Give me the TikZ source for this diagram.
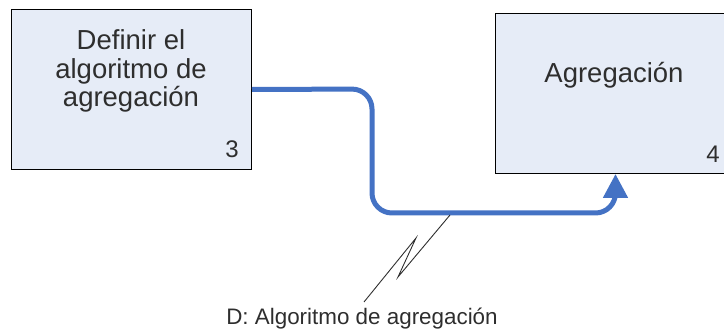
\documentclass[tikz,border=0pt]{standalone}
\usepackage{fontspec}
\setmainfont{Liberation Sans}
\usetikzlibrary{arrows.meta}
\definecolor{boxfill}{HTML}{E6ECF7}
\definecolor{flowblue}{HTML}{4472C4}
\definecolor{txt}{HTML}{2E2E2E}
\tikzset{
  procbox/.style={draw=black, line width=1pt, fill=boxfill, minimum width=240pt, minimum height=160pt, anchor=north west, inner sep=0pt},
  boxtext/.style={text=txt, font=\fontsize{27.5}{28.5}\selectfont, align=center, inner sep=0pt},
  numtext/.style={text=txt, font=\fontsize{24}{28}\selectfont, inner sep=0pt, anchor=base},
  flow/.style={draw=flowblue, line width=5pt, rounded corners=20pt, -{Triangle[width=24pt,length=24pt]}},
  zig/.style={draw=txt, line width=0.9pt},
  lbl/.style={text=txt, font=\fontsize{22.4}{24}\selectfont, inner sep=0pt, anchor=base}
}
\begin{document}
\begin{tikzpicture}[x=1pt,y=-1pt]
\useasboundingbox (0,0) rectangle (724,334);
\clip (0,0) rectangle (724,334);
\node[procbox] (b3) at (11,9) {};
\node[procbox] (b4) at (495,13) {};
\node[boxtext, anchor=north] (t3) at (131,29.5) {Definir el\\algoritmo de\\agregación};
\node[boxtext, anchor=base] (t4) at (614,83) {Agregación};
\node[numtext] (n3) at (232,158) {3};
\node[numtext] (n4) at (713,163) {4};
\draw[flow] (b3.east) -- (372,89) -- (372,213) -- (b4.south |- 0,213) -- (b4.south);
\coordinate (z0) at (450,215);
\coordinate (z3) at (364,302);
\draw[zig] (z0) -- (398,277) -- (416,238) -- (z3);
\node[lbl] (d) at (362,324) {D: Algoritmo de agregación};
\end{tikzpicture}
\end{document}
